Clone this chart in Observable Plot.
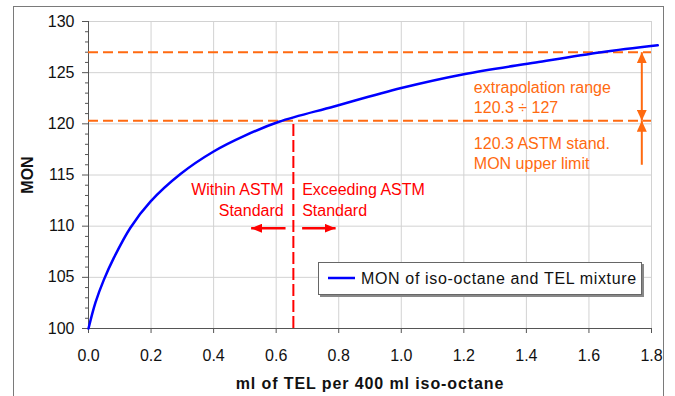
<!DOCTYPE html>
<html><head><meta charset="utf-8">
<script src="https://cdn.jsdelivr.net/npm/d3@7"></script>
<script src="https://cdn.jsdelivr.net/npm/@observablehq/plot@0.6"></script>
<style>body{margin:0;background:#fff;}</style>
</head><body><div id="chart"></div>
<script>
// Curve: MON of iso-octane and TEL mixture
const tel = [0, 0.0224, 0.049, 0.081, 0.134, 0.198, 0.294, 0.4, 0.5, 0.609, 0.785, 1.0, 1.2, 1.43, 1.64, 1.82];
const mon = [100, 102.55, 104.75, 106.9, 109.85, 112.4, 115.1, 117.3, 118.85, 120.2, 121.7, 123.5, 124.85, 126.0, 127.0, 127.67];

const xTicks = [0, 0.2, 0.4, 0.6, 0.8, 1.0, 1.2, 1.4, 1.6, 1.8];
const yTicks = [100, 105, 110, 115, 120, 125, 130];
const yMinor = d3.range(100, 131).filter(d => d % 5 !== 0);

const limits = [120.3, 127];          // ASTM limit, extrapolation top
const astmTel = 0.655;                 // TEL at ASTM limit
const orangeArrows = [
  {x: 1.769, y1: 127, y2: 120.3, both: true},
  {x: 1.769, y1: 116, y2: 120.3, both: false}
];
const redArrows = [
  {x1: 0.630, x2: 0.52, y: 109.8},
  {x1: 0.683, x2: 0.79, y: 109.8}
];
const redLabelsLeft = [{x: 0.624, y: 112.68, text: "Within ASTM\nStandard"}];
const redLabelsRight = [{x: 0.683, y: 112.68, text: "Exceeding ASTM\nStandard"}];
const orangeLabels = [
  {x: 1.232, y: 122.69, text: "extrapolation range\n120.3 ÷ 127"},
  {x: 1.232, y: 117.22, text: "120.3 ASTM stand.\nMON upper limit"}
];
const legendLabel = "MON of iso-octane and TEL mixture";

const curve = tel.map((t, i) => ({tel: t, mon: mon[i]}));

const NS = "http://www.w3.org/2000/svg";
function head(len, wid) {
  return (color, context) => {
    const doc = context.document;
    const m = doc.createElementNS(NS, "marker");
    m.setAttribute("viewBox", `${-len} ${-wid / 2} ${len} ${wid}`);
    m.setAttribute("markerWidth", len);
    m.setAttribute("markerHeight", wid);
    m.setAttribute("markerUnits", "userSpaceOnUse");
    m.setAttribute("orient", "auto-start-reverse");
    m.setAttribute("refX", 0);
    m.setAttribute("refY", 0);
    m.setAttribute("fill", color);
    m.setAttribute("stroke", "none");
    const p = doc.createElementNS(NS, "path");
    p.setAttribute("d", `M0,0L${-len},${-wid / 2}L${-len},${wid / 2}Z`);
    m.appendChild(p);
    return m;
  };
}

const ORANGE = "#ff6a10";
const RED = "#ff0000";
const BLUE = "#0000ff";

const chart = Plot.plot({
  width: 675, height: 396,
  marginLeft: 88, marginRight: 24, marginTop: 21, marginBottom: 68,
  style: {fontFamily: "'Liberation Sans', Arial, sans-serif", fontSize: "16px", color: "#111", background: "white", overflow: "visible"},
  x: {domain: [0, 1.8]},
  y: {domain: [100, 130]},
  marks: [
    Plot.gridX(xTicks, {stroke: "#d2d2d2", strokeOpacity: 1}),
    Plot.gridY(yTicks, {stroke: "#d2d2d2", strokeOpacity: 1}),
    Plot.axisY({ticks: yMinor, tickSize: 3, tickFormat: () => "", label: null, stroke: "#555"}),
    Plot.axisY({ticks: yTicks, tickSize: 6, tickPadding: 8, label: "MON", labelAnchor: "center", labelOffset: 67, labelArrow: false, stroke: "#555", fontSize: 16}),
    Plot.axisX({ticks: xTicks, tickSize: 5, tickPadding: 16, tickFormat: d3.format(".1f"), label: "ml of TEL per 400 ml iso-octane", labelAnchor: "center", labelOffset: 60, labelArrow: false, stroke: "#555", fontSize: 16}),
    Plot.ruleX([0], {stroke: "#555"}),
    Plot.ruleY([100], {stroke: "#555"}),
    Plot.ruleY(limits, {stroke: ORANGE, strokeWidth: 2, strokeDasharray: "10,5"}),
    Plot.ruleX([astmTel], {y1: 100, y2: limits[0], stroke: RED, strokeWidth: 2, strokeDasharray: "12,4"}),
    Plot.line(curve, {x: "tel", y: "mon", stroke: BLUE, strokeWidth: 2.5, curve: "catmull-rom"}),
    Plot.link(orangeArrows.filter(d => d.both), {x1: "x", x2: "x", y1: "y1", y2: "y2", stroke: ORANGE, strokeWidth: 2, markerStart: head(11, 10), markerEnd: head(11, 10)}),
    Plot.link(orangeArrows.filter(d => !d.both), {x1: "x", x2: "x", y1: "y1", y2: "y2", stroke: ORANGE, strokeWidth: 2, markerEnd: head(11, 10)}),
    Plot.link(redArrows, {x1: "x1", x2: "x2", y1: "y", y2: "y", stroke: RED, strokeWidth: 2.5, markerEnd: head(11, 9)}),
    Plot.text(redLabelsLeft, {x: "x", y: "y", text: "text", textAnchor: "end", fill: RED, fontSize: 16, lineHeight: 1.3, lineAnchor: "middle"}),
    Plot.text(redLabelsRight, {x: "x", y: "y", text: "text", textAnchor: "start", fill: RED, fontSize: 16, lineHeight: 1.3, lineAnchor: "middle"}),
    Plot.text(orangeLabels, {x: "x", y: "y", text: "text", textAnchor: "start", fill: ORANGE, fontSize: 16, lineHeight: 1.3, lineAnchor: "middle"})
  ]
});

const svg = d3.select(chart);
svg.selectAll('g[aria-label="x-axis label"] text, g[aria-label="y-axis label"] text').attr("font-weight", "bold").attr("fill", "#111");
svg.selectAll('g[aria-label="x-axis label"] text').attr("letter-spacing", "0.9px");

// outer frame
svg.append("rect").attr("x", 13.5).attr("y", 6.5).attr("width", 650).attr("height", 400)
  .attr("fill", "none").attr("stroke", "#7a7a7a");

// legend
const lg = svg.append("g");
lg.append("rect").attr("x", 320).attr("y", 264).attr("width", 324).attr("height", 33).attr("fill", "#888");
lg.append("rect").attr("x", 318.5).attr("y", 262.5).attr("width", 323).attr("height", 32).attr("fill", "white").attr("stroke", "#666");
lg.append("line").attr("x1", 328).attr("x2", 355).attr("y1", 278).attr("y2", 278).attr("stroke", BLUE).attr("stroke-width", 2.5);
lg.append("text").attr("x", 361).attr("y", 278).attr("dy", "0.35em").attr("text-anchor", "start").attr("font-size", 16).attr("letter-spacing", "0.65px").attr("fill", "#111").text(legendLabel);

document.getElementById("chart").appendChild(chart);
</script>
</body></html>
